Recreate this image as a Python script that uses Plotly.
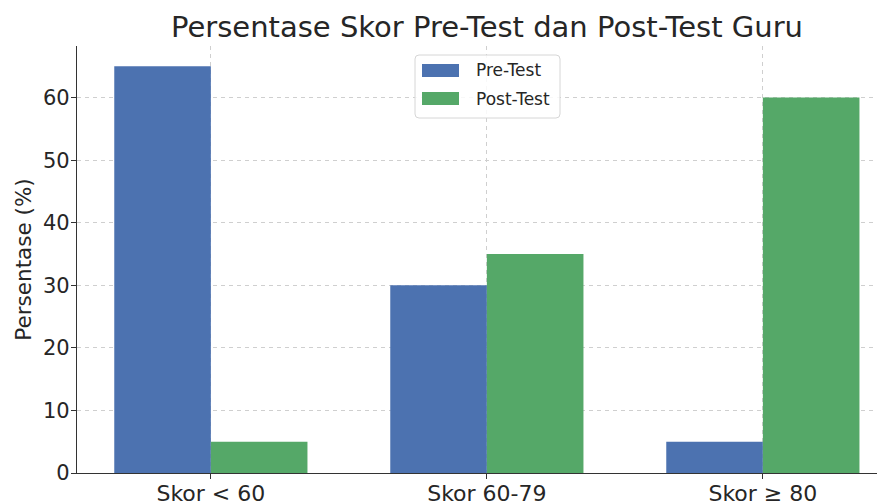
import plotly.graph_objects as go

categories = ["Skor < 60", "Skor 60-79", "Skor ≥ 80"]
pre_test = [65, 30, 5]
post_test = [5, 35, 60]
y_ticks = [0, 10, 20, 30, 40, 50, 60]
series_names = ["Pre-Test", "Post-Test"]
series_colors = ["#4c72b0", "#55a868"]

FONT = "DejaVu Sans"
TXT = "#262626"

# the page body adds an 8px offset; layout numbers below are figure pixels
OFF = 8
W, H = 885, 501
ML, MT = 77 - OFF, 46 - OFF
MB = H - (473 - OFF)
MR = 0
PW, PH = W - ML - MR, H - MT - MB


def px(x):  # page x -> paper
    return (x - OFF - ML) / PW


def py(y):  # page y -> paper
    return (H - MB - (y - OFF)) / PH


fig = go.Figure()
for name, vals, col in zip(series_names, [pre_test, post_test], series_colors):
    fig.add_trace(go.Bar(name=name, x=categories, y=vals, showlegend=False,
                         marker=dict(color=col, line=dict(width=0))))

# legend box (rounded) drawn as decoration
x0, x1, y0, y1, r = px(415), px(560), py(118), py(55), 4
rx, ry = r / PW, r / PH
path = (f"M {x0+rx},{y0} L {x1-rx},{y0} Q {x1},{y0} {x1},{y0+ry} "
        f"L {x1},{y1-ry} Q {x1},{y1} {x1-rx},{y1} L {x0+rx},{y1} "
        f"Q {x0},{y1} {x0},{y1-ry} L {x0},{y0+ry} Q {x0},{y0} {x0+rx},{y0} Z")
shapes = [dict(type="path", path=path, xref="paper", yref="paper",
               fillcolor="rgba(255,255,255,0.85)", line=dict(color="#d6d6d6", width=1),
               layer="above")]
annotations = []
rows = [(64, 77, 70.5), (92, 105, 98.5)]
for (sy0, sy1, ty), name, col in zip(rows, series_names, series_colors):
    shapes.append(dict(type="rect", xref="paper", yref="paper",
                       x0=px(422), x1=px(459), y0=py(sy1), y1=py(sy0),
                       fillcolor=col, line=dict(width=0), layer="above"))
    annotations.append(dict(text=name, xref="paper", yref="paper",
                            x=px(474), y=py(ty), xanchor="left", yanchor="middle",
                            showarrow=False,
                            font=dict(family=FONT, size=17, color=TXT)))

fig.update_layout(
    width=W, height=H,
    margin=dict(l=ML, r=MR, t=MT, b=MB),
    plot_bgcolor="white", paper_bgcolor="white",
    barmode="group", bargap=0.3, bargroupgap=0,
    font=dict(family=FONT, color=TXT),
    title=dict(text="Persentase Skor Pre-Test dan Post-Test Guru",
               font=dict(family=FONT, size=29, color=TXT),
               x=(487 - OFF) / W, xanchor="center", xref="container",
               y=1 - (27 - OFF) / H, yanchor="middle", yref="container"),
    shapes=shapes, annotations=annotations,
    showlegend=False,
)
x_left = -0.485
x_right = x_left + PW / 276.0
fig.update_xaxes(
    range=[x_left, x_right], automargin=False,
    showline=True, linecolor="#333333", linewidth=1.3, mirror=False,
    ticks="outside", ticklen=5, tickwidth=1.2, tickcolor="#333333",
    tickfont=dict(family=FONT, size=22, color=TXT),
    ticklabelstandoff=-5,
    showgrid=True, gridcolor="#cfcfcf", griddash="4px,4px", gridwidth=1,
    zeroline=False,
)
fig.update_yaxes(
    range=[0, 68.25], automargin=False,
    tickvals=y_ticks,
    showline=True, linecolor="#333333", linewidth=1.3, mirror=False,
    ticks="outside", ticklen=5, tickwidth=1.2, tickcolor="#333333",
    tickfont=dict(family=FONT, size=21, color=TXT),
    ticklabelstandoff=-3,
    showgrid=True, gridcolor="#cfcfcf", griddash="4px,4px", gridwidth=1,
    zeroline=False,
    title=dict(text="Persentase (%)", font=dict(family=FONT, size=21.5, color=TXT),
               standoff=5),
)

fig.write_html("out.html")
